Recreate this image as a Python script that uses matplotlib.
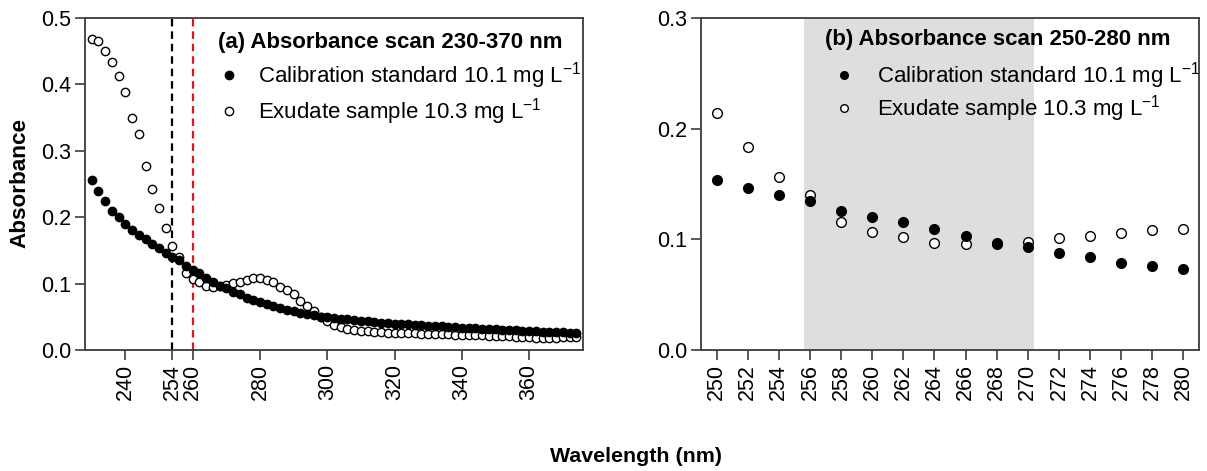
import numpy as np
import matplotlib
matplotlib.use("Agg")
import matplotlib.pyplot as plt
from matplotlib.lines import Line2D

plt.rcParams["font.family"] = ["Liberation Sans", "DejaVu Sans"]
plt.rcParams["mathtext.default"] = "regular"

# wavelength scan 230-374 nm, 2 nm step
wavelength = list(range(230, 376, 2))

calibration = [
    0.256, 0.240, 0.225, 0.210, 0.200, 0.190, 0.180, 0.173, 0.167, 0.159,
    0.154, 0.146, 0.140, 0.135, 0.126, 0.120, 0.116, 0.109, 0.103, 0.097,
    0.093, 0.088, 0.084, 0.079, 0.076, 0.073, 0.069, 0.066, 0.063, 0.060,
    0.058, 0.056, 0.054, 0.052, 0.050, 0.049, 0.048, 0.047, 0.046, 0.045,
    0.044, 0.043, 0.042, 0.041, 0.040, 0.0395, 0.039, 0.0385, 0.038, 0.037,
    0.0365, 0.036, 0.0355, 0.035, 0.034, 0.0335, 0.033, 0.0325, 0.032, 0.0315,
    0.031, 0.0305, 0.030, 0.0295, 0.029, 0.0285, 0.028, 0.0278, 0.0272, 0.0268,
    0.0265, 0.0262, 0.026,
]

exudate = [
    0.469, 0.465, 0.450, 0.433, 0.413, 0.388, 0.349, 0.325, 0.277, 0.243,
    0.214, 0.183, 0.156, 0.140, 0.116, 0.107, 0.102, 0.097, 0.0955, 0.096,
    0.098, 0.101, 0.103, 0.106, 0.108, 0.109, 0.106, 0.103, 0.095, 0.091,
    0.084, 0.074, 0.066, 0.058, 0.050, 0.043, 0.038, 0.034, 0.032, 0.030,
    0.029, 0.028, 0.027, 0.0265, 0.026, 0.026, 0.0255, 0.025, 0.025, 0.0245,
    0.0243, 0.024, 0.0238, 0.0235, 0.0232, 0.023, 0.0226, 0.0223, 0.022, 0.0216,
    0.0212, 0.021, 0.0205, 0.020, 0.0195, 0.019, 0.0185, 0.0185, 0.0185, 0.0185,
    0.019, 0.019, 0.019,
]

cal_label = "Calibration standard 10.1 mg L$^{-1}$"
exu_label = "Exudate sample 10.3 mg L$^{-1}$"

left_xticks = [240, 254, 260, 280, 300, 320, 340, 360]
right_xticks = list(range(250, 282, 2))

SPINE = "#3c3c3c"
FS = 15.5
LEG_FS = 16


def style_axes(ax):
    for s in ax.spines.values():
        s.set_color(SPINE)
        s.set_linewidth(1.3)
    ax.tick_params(direction="out", length=7.5, width=1.2, color=SPINE,
                   labelsize=FS, pad=2.5)
    ax.tick_params(axis="x", labelrotation=90)


def add_legend(ax, title, x, y, tx, ty, pad, spacing, msize):
    ax.text(tx, ty, title, transform=ax.transAxes, fontsize=16,
            fontweight="bold", va="center", ha="left")
    handles = [
        Line2D([], [], ls="none", marker="o", color="black", markersize=msize),
        Line2D([], [], ls="none", marker="o", mfc="white", mec="black",
               mew=1.0, markersize=msize),
    ]
    ax.legend(handles, [cal_label, exu_label], loc="upper left",
              bbox_to_anchor=(x, y), frameon=False, fontsize=LEG_FS,
              handlelength=1.0, handletextpad=pad, borderpad=0,
              borderaxespad=0, labelspacing=spacing)


fig = plt.figure(figsize=(12.07, 4.71), dpi=100)
ax1 = fig.add_axes([85 / 1207, 121 / 471, 498 / 1207, 332 / 471])
ax2 = fig.add_axes([701 / 1207, 121 / 471, 498 / 1207, 332 / 471])

# (a) full scan
ax1.axvline(254, color="black", lw=1.6, ls=(0, (3.4, 2.2)), zorder=1)
ax1.axvline(260, color="#e8141c", lw=1.6, ls=(0, (3.4, 2.2)), zorder=1)
ax1.plot(wavelength, exudate, ls="none", marker="o", mfc="white", mec="black",
         mew=1.0, markersize=6, zorder=2)
ax1.plot(wavelength, calibration, ls="none", marker="o", color="black",
         markersize=6, zorder=3)
ax1.set_xlim(228, 376)
ax1.set_ylim(0, 0.5)
ax1.set_xticks(left_xticks)
ax1.set_yticks([0.0, 0.1, 0.2, 0.3, 0.4, 0.5])
ax1.set_yticklabels([f"{v:.1f}" for v in ax1.get_yticks()])
style_axes(ax1)
add_legend(ax1, "(a) Absorbance scan 230-370 nm", 0.267, 0.872, 0.267, 0.926,
           0.82, 0.22, 6)

# (b) zoom 250-280 nm
sel = [i for i, w in enumerate(wavelength) if 250 <= w <= 280]
wl_b = [wavelength[i] for i in sel]
ax2.axvspan(255.6, 270.4, color="#dedede", lw=0, zorder=0)
ax2.plot(wl_b, [exudate[i] for i in sel], ls="none", marker="o", mfc="white",
         mec="black", mew=1.0, markersize=7, zorder=2)
ax2.plot(wl_b, [calibration[i] for i in sel], ls="none", marker="o",
         color="black", markersize=7, zorder=3)
ax2.set_xlim(249, 281)
ax2.set_ylim(0, 0.3)
ax2.set_xticks(right_xticks)
ax2.set_yticks([0.0, 0.1, 0.2, 0.3])
ax2.set_yticklabels([f"{v:.1f}" for v in ax2.get_yticks()])
style_axes(ax2)
add_legend(ax2, "(b) Absorbance scan 250-280 nm", 0.265, 0.872, 0.249, 0.936,
           1.0, 0.08, 5.5)

fig.text(20 / 1207, 1 - 183 / 471, "Absorbance", rotation=90, fontsize=16.2,
         fontweight="bold", ha="center", va="center")
fig.text(636 / 1207, 1 - 457 / 471, "Wavelength (nm)", fontsize=15.4,
         fontweight="bold", ha="center", va="center")

fig.savefig("out.png", dpi=100)
